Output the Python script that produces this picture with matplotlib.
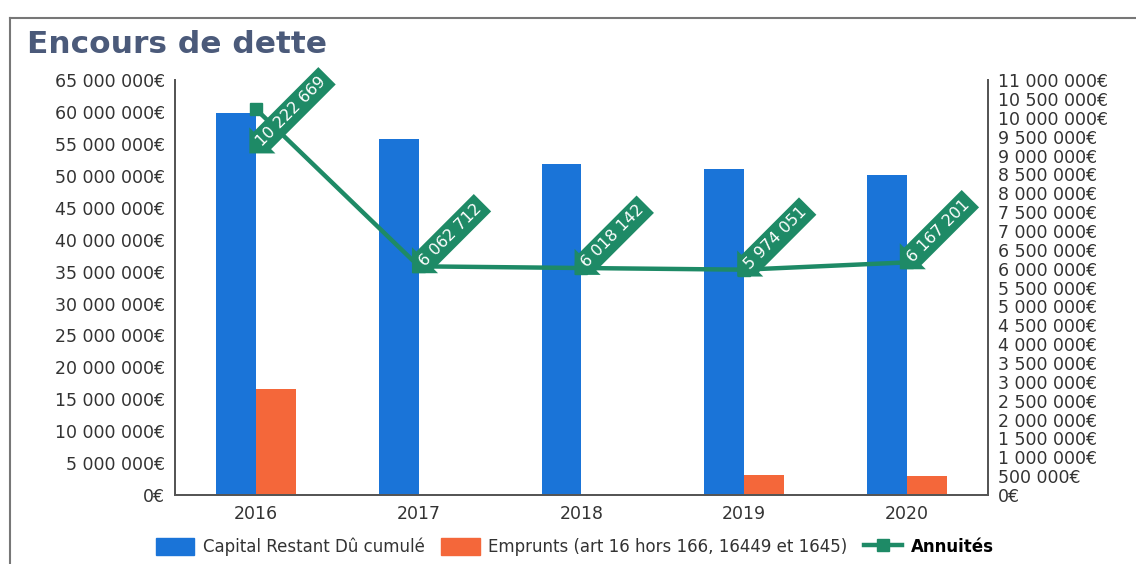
import matplotlib
matplotlib.use("Agg")
import matplotlib.pyplot as plt
from matplotlib.patches import Rectangle
from matplotlib.lines import Line2D
import numpy as np

years = ["2016", "2017", "2018", "2019", "2020"]
capital_restant = [59_800_000, 55_800_000, 51_900_000, 51_100_000, 50_100_000]
emprunts = [16_600_000, 0, 0, 3_100_000, 3_000_000]
annuites = [10_222_669, 6_062_712, 6_018_142, 5_974_051, 6_167_201]

left_ticks = list(range(0, 65_000_001, 5_000_000))
right_ticks = list(range(0, 11_000_001, 500_000))

BLUE = "#1a74d8"
ORANGE = "#f4673a"
GREEN = "#1e8a66"
TITLE = "#4b5a7a"
TXT = "#333333"

plt.rcParams["font.family"] = ["DejaVu Sans"]


def euro(v):
    return f"{int(v):,}".replace(",", " ") + "€"


fig = plt.figure(figsize=(11.36, 5.64), dpi=100)
# frame edges (top and left)
fig.add_artist(Line2D([0.009, 1.0], [0.968, 0.968], transform=fig.transFigure,
                      color="#777777", linewidth=1.5))
fig.add_artist(Line2D([0.009, 0.009], [0.0, 0.968], transform=fig.transFigure,
                      color="#777777", linewidth=1.5))
fig.text(0.024, 0.921, "Encours de dette", fontsize=22.5, fontweight="bold",
         color=TITLE, va="center", ha="left")

ax = fig.add_axes([0.154, 0.1223, 0.7157, 0.7357])
ax2 = ax.twinx()

x = np.arange(len(years))
w = 0.245
ax.bar(x - w / 2, capital_restant, width=w, color=BLUE, label="Capital Restant Dû cumulé", zorder=2)
ax.bar(x + w / 2, emprunts, width=w, color=ORANGE,
       label="Emprunts (art 16 hors 166, 16449 et 1645)", zorder=2)

ax.set_xlim(-0.5, len(years) - 0.5)
ax.set_ylim(0, 65_000_000)
ax.set_yticks(left_ticks)
ax.set_yticklabels([euro(v) for v in left_ticks])
ax.set_xticks(x)
ax.set_xticklabels(years)

ax2.plot(x, annuites, color=GREEN, linewidth=3.2, marker="s", markersize=9,
         label="Annuités", zorder=3)
ax2.set_ylim(0, 11_000_000)
ax2.set_yticks(right_ticks)
ax2.set_yticklabels([euro(v) for v in right_ticks])

notes = []
for xi, v in zip(x, annuites):
    notes.append(ax2.annotate(f"{v:,}".replace(",", " "), xy=(xi, v), xytext=(2, 2),
                              textcoords="offset points", rotation=45, rotation_mode="anchor",
                              ha="left", va="center", fontsize=11.5, color="white",
                              bbox=dict(boxstyle="larrow,pad=0.3", facecolor=GREEN,
                                        edgecolor="none"),
                              zorder=5, annotation_clip=False))

for a in (ax, ax2):
    a.spines["top"].set_visible(False)
    for s in ("left", "right", "bottom"):
        a.spines[s].set_color("#555555")
        a.spines[s].set_linewidth(1.3)
    a.tick_params(axis="both", length=0, colors=TXT, labelsize=12.5)
ax.tick_params(axis="y", pad=7)
ax.tick_params(axis="x", pad=7, labelsize=12.5)
ax2.tick_params(axis="y", pad=7, labelsize=12.5)

# keep value labels from running far above the plot area: push them down if needed
fig.canvas.draw()
renderer = fig.canvas.get_renderer()
top_limit = ax.get_window_extent(renderer).y1 + 13
for n in notes:
    box = n.get_bbox_patch().get_window_extent(renderer)
    excess = box.y1 - top_limit
    if excess > 0:
        n.xyann = (2, 2 - excess * 72 / fig.dpi)

handles = [
    Rectangle((0, 0), 1, 1, color=BLUE),
    Rectangle((0, 0), 1, 1, color=ORANGE),
    Line2D([0], [0], color=GREEN, linewidth=3.2, marker="s", markersize=8),
]
labels = ["Capital Restant Dû cumulé", "Emprunts (art 16 hors 166, 16449 et 1645)", "Annuités"]
leg = fig.legend(handles, labels, loc="center", bbox_to_anchor=(0.506, 0.03), ncol=3,
                 frameon=False, fontsize=12, handlelength=2.3, handleheight=1.2,
                 columnspacing=1.0, handletextpad=0.5)
for t in leg.get_texts():
    t.set_color(TXT)
leg.get_texts()[2].set_fontweight("bold")
leg.get_texts()[2].set_color("black")

fig.savefig("out.png", dpi=100)
